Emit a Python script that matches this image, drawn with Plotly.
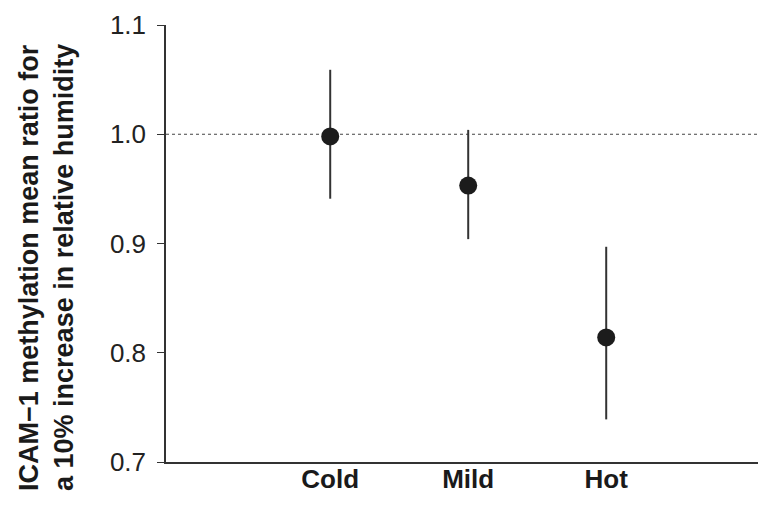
import plotly.graph_objects as go

categories = ["Cold", "Mild", "Hot"]
cat_pos = [0, 1, 2]
ratio = [0.998, 0.953, 0.814]
ci_low = [0.941, 0.904, 0.739]
ci_high = [1.059, 1.004, 0.897]
y_ticks = [0.7, 0.8, 0.9, 1.0, 1.1]
y_ticklabels = ["0.7", "0.8", "0.9", "1.0", "1.1"]
reference_value = 1.0
y_title = "ICAM\u22121 methylation mean ratio for<br>a 10% increase in relative humidity"

err_plus = [h - r for h, r in zip(ci_high, ratio)]
err_minus = [r - l for r, l in zip(ratio, ci_low)]

fig = go.Figure()
fig.add_trace(go.Scatter(
    x=cat_pos, y=ratio, mode="markers",
    marker=dict(size=18, color="#1c1c1c"),
    error_y=dict(type="data", symmetric=False, array=err_plus, arrayminus=err_minus,
                 width=0, thickness=2, color="#333333"),
    showlegend=False,
))

fig.add_shape(type="line", xref="paper", x0=0, x1=1, yref="y",
              y0=reference_value, y1=reference_value,
              line=dict(color="#444444", width=1.2, dash="dot"), layer="below")

fig.update_layout(
    width=758, height=508,
    margin=dict(l=166, r=0, t=25, b=46),
    plot_bgcolor="white", paper_bgcolor="white",
    font=dict(family="Liberation Sans, Arial, sans-serif", color="#222222"),
    xaxis=dict(range=[-1.19, 3.1], tickvals=cat_pos, ticktext=[f"<b>{c}</b>" for c in categories],
               showline=True, linecolor="#333333", linewidth=1.5, ticks="",
               showgrid=False, zeroline=False, ticklabelstandoff=-7,
               tickfont=dict(size=26, color="#1a1a1a")),
    yaxis=dict(range=[0.7, 1.1], tickvals=y_ticks, ticktext=y_ticklabels,
               showline=True, linecolor="#333333", linewidth=1.5, ticks="outside",
               ticklen=7, tickcolor="#333333", tickwidth=1.2, showgrid=False, zeroline=False,
               ticklabelstandoff=6, tickfont=dict(size=26, color="#222222")),
    annotations=[dict(text=f"<b>{y_title}</b>", textangle=-90, xref="paper", yref="paper",
                      x=-0.201, y=0.444, xanchor="center", yanchor="middle", showarrow=False,
                      align="left", font=dict(size=27, color="#1a1a1a"))],
)

fig.write_html("out.html", config={"displayModeBar": False},
               post_script="document.body.style.margin='0';document.body.style.overflow='hidden';")
